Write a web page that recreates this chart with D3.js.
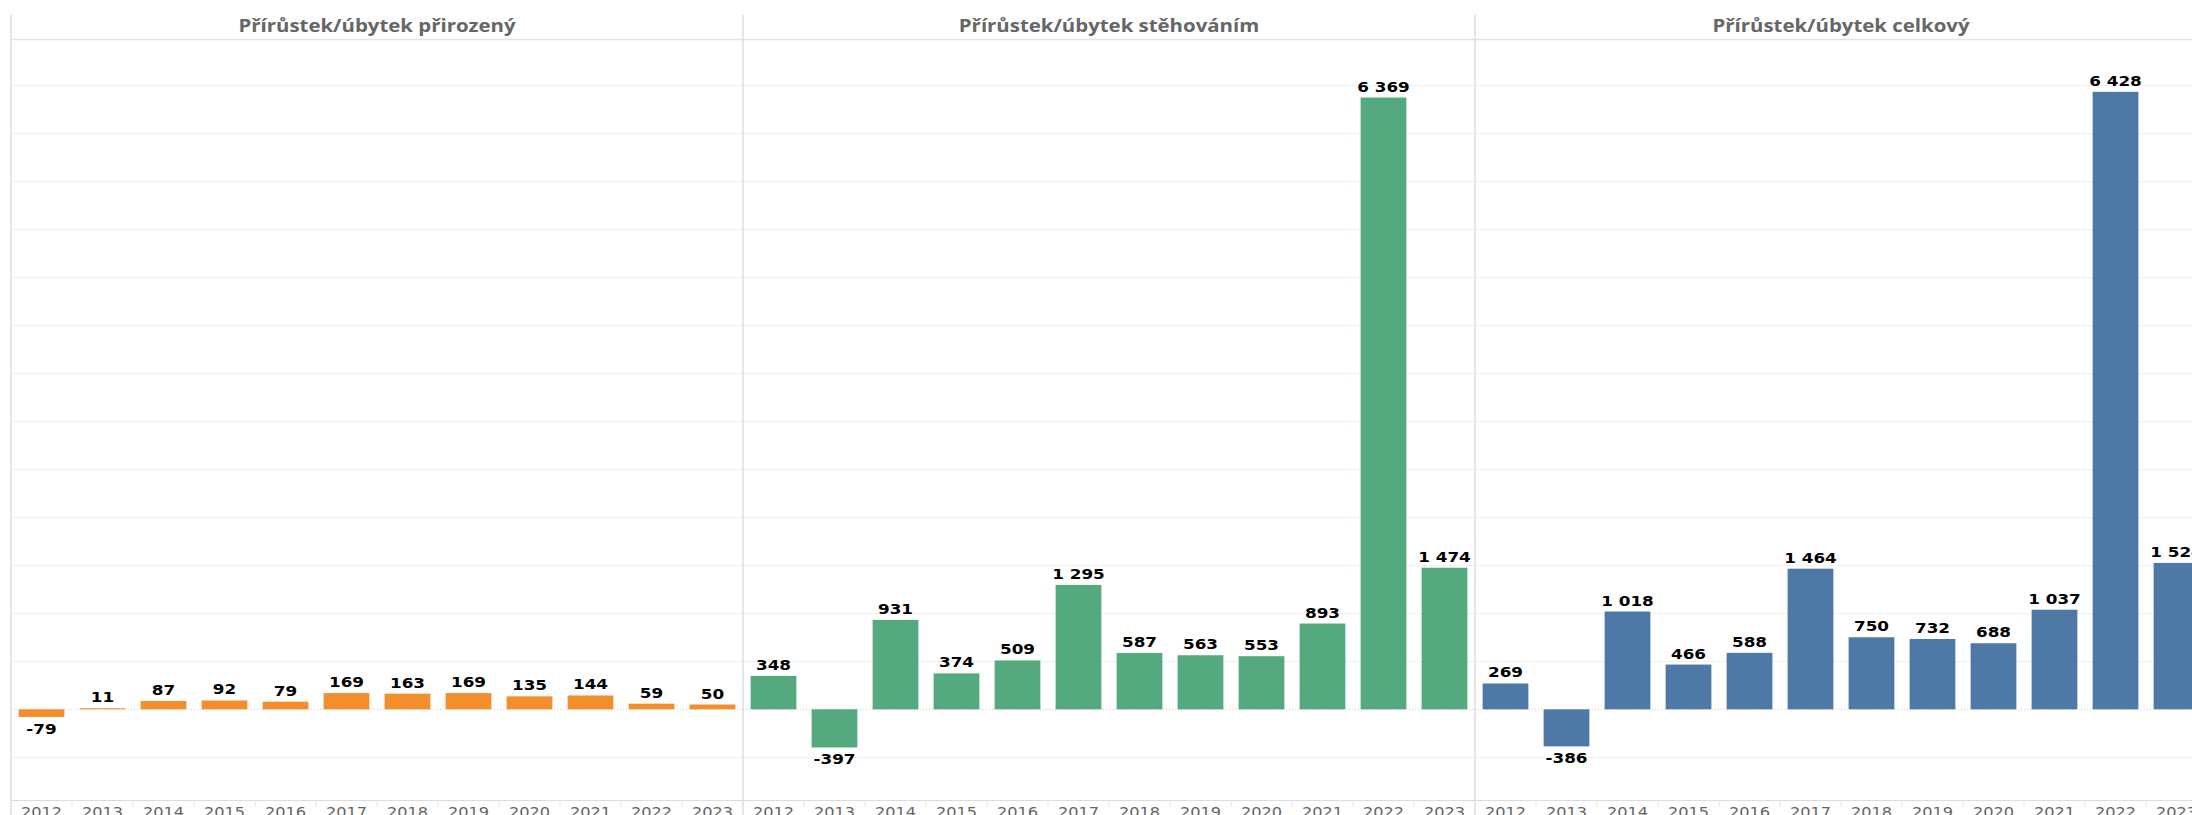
<!DOCTYPE html>
<html>
<head>
<meta charset="utf-8">
<script src="https://cdn.jsdelivr.net/npm/d3@7"></script>
<style>
  html, body { margin: 0; padding: 0; background: #ffffff; overflow: hidden; }
  svg { display: block; }
</style>
</head>
<body>
<svg id="chart" width="2192" height="815"></svg>
<script>
// ---- data ----
const years = ["2012","2013","2014","2015","2016","2017","2018","2019","2020","2021","2022","2023"];
const panelTitles = ["Přírůstek/úbytek přirozený", "Přírůstek/úbytek stěhováním", "Přírůstek/úbytek celkový"];
const naturalValues   = [-79, 11, 87, 92, 79, 169, 163, 169, 135, 144, 59, 50];
const migrationValues = [348, -397, 931, 374, 509, 1295, 587, 563, 553, 893, 6369, 1474];
const totalValues     = [269, -386, 1018, 466, 588, 1464, 750, 732, 688, 1037, 6428, 1524];
const panelColors = ["#F28E2B", "#55A97E", "#4E79A7"];
const gridValues = [-500, 500, 1000, 1500, 2000, 2500, 3000, 3500, 4000, 4500, 5000, 5500, 6000, 6500];

const panels = [naturalValues, migrationValues, totalValues].map((vals, i) => ({
  title: panelTitles[i], color: panelColors[i],
  data: years.map((yr, j) => ({ year: yr, value: vals[j] }))
}));

// ---- layout ----
const W = 2192, H = 815;
const left = 11, panelW = 732;
const headerY = 39, axisY = 800;
const stretch = 1.2;

const svg = d3.select("#chart");
const xPanel = d3.scaleBand().domain(d3.range(panels.length)).range([left, left + panelW * panels.length]);
const xYear = d3.scaleBand().domain(years).range([0, xPanel.bandwidth()]).paddingInner(0.25).paddingOuter(0.125);
const y = d3.scaleLinear().domain([-944, 6978]).range([axisY, headerY]);

const fmt = d3.formatLocale({ decimal: ",", thousands: "\u00a0", grouping: [3], currency: ["", ""], minus: "-" }).format(",d");

// gridlines
svg.append("g").selectAll("line").data(gridValues).join("line")
  .attr("x1", left).attr("x2", W)
  .attr("y1", d => Math.round(y(d)) + 0.5).attr("y2", d => Math.round(y(d)) + 0.5)
  .attr("stroke", "#f0f0f0").attr("stroke-width", 1);

// header separator
svg.append("line").attr("x1", left).attr("x2", W).attr("y1", headerY + 0.5).attr("y2", headerY + 0.5)
  .attr("stroke", "#e3e3e3").attr("stroke-width", 1.5);

// x axis line
svg.append("line").attr("x1", left).attr("x2", W).attr("y1", axisY + 0.5).attr("y2", axisY + 0.5)
  .attr("stroke", "#dcdcdc").attr("stroke-width", 1);

// panel dividers
svg.append("g").selectAll("line").data(d3.range(panels.length + 1)).join("line")
  .attr("x1", i => left + i * panelW).attr("x2", i => left + i * panelW)
  .attr("y1", 15).attr("y2", H)
  .attr("stroke", "#dedede").attr("stroke-width", 1.5);

const g = svg.selectAll("g.panel").data(panels).join("g")
  .attr("class", "panel")
  .attr("transform", (d, i) => `translate(${xPanel(i)},0)`);

// zero line (dotted)
g.append("line").attr("x1", 0).attr("x2", panelW)
  .attr("y1", y(0)).attr("y2", y(0))
  .attr("stroke", "#c8c8c8").attr("stroke-width", 1).attr("stroke-dasharray", "1,2");

// band separators on axis
g.append("g").selectAll("line").data(years.slice(1)).join("line")
  .attr("x1", d => xYear(d) - xYear.step() * xYear.paddingInner() / 2)
  .attr("x2", d => xYear(d) - xYear.step() * xYear.paddingInner() / 2)
  .attr("y1", axisY).attr("y2", axisY + 7)
  .attr("stroke", "#e6e6e6").attr("stroke-width", 1);

// titles
g.append("text")
  .attr("transform", `translate(${panelW / 2},32) scale(${stretch},1)`)
  .attr("text-anchor", "middle")
  .attr("font-family", "'Open Sans', sans-serif")
  .attr("font-weight", 700)
  .attr("font-size", "17px")
  .attr("fill", "#666666")
  .text(d => d.title);

// bars
g.each(function(p) {
  const sel = d3.select(this);
  sel.append("g").selectAll("rect").data(p.data).join("rect")
    .attr("x", d => xYear(d.year))
    .attr("width", xYear.bandwidth())
    .attr("y", d => y(Math.max(0, d.value)))
    .attr("height", d => Math.abs(y(d.value) - y(0)))
    .attr("fill", p.color);

  // value labels
  sel.append("g").selectAll("text").data(p.data).join("text")
    .attr("transform", d => {
      const cx = xYear(d.year) + xYear.bandwidth() / 2;
      const ty = d.value >= 0 ? y(d.value) - 6 : y(d.value) + 17;
      return `translate(${cx},${ty}) scale(${stretch},1)`;
    })
    .attr("text-anchor", "middle")
    .attr("font-family", "'DejaVu Sans', sans-serif")
    .attr("font-weight", 700)
    .attr("font-size", "14px")
    .attr("fill", "#000000")
    .text(d => fmt(d.value));

  // year labels
  sel.append("g").selectAll("text").data(years).join("text")
    .attr("transform", d => `translate(${xYear(d) + xYear.bandwidth() / 2},${axisY + 17}) scale(${stretch},1)`)
    .attr("text-anchor", "middle")
    .attr("font-family", "'DejaVu Sans', sans-serif")
    .attr("font-size", "13.5px")
    .attr("fill", "#666666")
    .text(d => d);
});
</script>
</body>
</html>
